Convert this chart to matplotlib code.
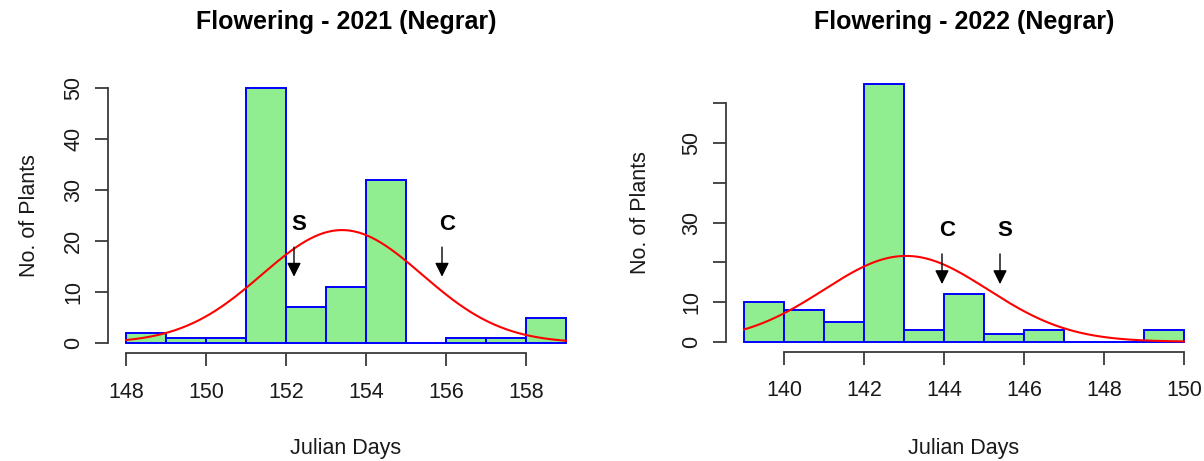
import numpy as np
import matplotlib
matplotlib.use("Agg")
import matplotlib.pyplot as plt

plt.rcParams["font.family"] = ["Liberation Sans", "DejaVu Sans"]

# 2021 panel
edges_2021 = np.arange(148, 160)
counts_2021 = [2, 1, 1, 50, 7, 11, 32, 0, 1, 1, 5]
mean_2021, sd_2021 = 153.4, 2.0
marks_2021 = [("S", 152.2), ("C", 155.9)]
xticks_2021 = [148, 150, 152, 154, 156, 158]
yticks_2021 = [0, 10, 20, 30, 40, 50]
ylabels_2021 = ["0", "10", "20", "30", "40", "50"]

# 2022 panel
edges_2022 = np.arange(139, 151)
counts_2022 = [10, 8, 5, 65, 3, 12, 2, 3, 0, 0, 3]
mean_2022, sd_2022 = 143.05, 2.05
marks_2022 = [("C", 143.95), ("S", 145.4)]
xticks_2022 = [140, 142, 144, 146, 148, 150]
yticks_2022 = [0, 10, 20, 30, 40, 50, 60]
ylabels_2022 = ["0", "10", "", "30", "", "50", ""]

W, H = 1204, 461
fig = plt.figure(figsize=(W / 100, H / 100), dpi=100)

axis_col = "#3a3a3a"


def panel(rect, edges, counts, mean, sd, marks, xticks, yticks, ylabels,
          arrow_top, arrow_tip, label_y, ylab_x, title):
    ax = fig.add_axes(rect)
    edges = np.asarray(edges)
    counts = np.asarray(counts)
    ax.bar(edges[:-1], counts, width=1, align="edge",
           facecolor="#90EE90", edgecolor="blue", linewidth=1.4, zorder=2)

    # fitted normal curve scaled to counts
    n = counts.sum()
    xs = np.linspace(edges[0], edges[-1], 300)
    ys = n * np.exp(-0.5 * ((xs - mean) / sd) ** 2) / (sd * np.sqrt(2 * np.pi))
    ax.plot(xs, ys, color="red", lw=1.5, zorder=3)

    for lab, xm in marks:
        ax.annotate("", xy=(xm, arrow_tip), xytext=(xm, arrow_top),
                    arrowprops=dict(arrowstyle="-|>", color="black", lw=1.0,
                                    mutation_scale=21, shrinkA=0, shrinkB=0),
                    zorder=4)
        ax.text(xm + 0.12, label_y, lab, fontsize=16, fontweight="bold",
                ha="center", va="center", zorder=4)

    rng = edges[-1] - edges[0]
    ax.set_xlim(edges[0] - 0.04 * rng, edges[-1] + 0.04 * rng)
    ymax = max(counts)
    ax.set_ylim(-0.04 * ymax, ymax * 1.04)

    for s in ["top", "right"]:
        ax.spines[s].set_visible(False)
    ax.spines["bottom"].set_bounds(xticks[0], xticks[-1])
    ax.spines["left"].set_bounds(yticks[0], yticks[-1])
    for s in ["bottom", "left"]:
        ax.spines[s].set_color(axis_col)
        ax.spines[s].set_linewidth(1.3)
    ax.set_xticks(xticks)
    ax.set_yticks(yticks)
    ax.set_yticklabels(ylabels, rotation=90, va="center")
    ax.tick_params(axis="both", length=9.5, width=1.3, color=axis_col,
                   labelsize=15.5, labelcolor="#1a1a1a")
    ax.tick_params(axis="x", pad=11)
    ax.tick_params(axis="y", pad=8)
    ax.set_xlabel("Julian Days", fontsize=15.5, color="#1a1a1a", va="center")
    ax.xaxis.set_label_coords(0.5, -0.345)
    ax.set_ylabel("No. of Plants", fontsize=15.5, color="#1a1a1a", va="center")
    ax.yaxis.set_label_coords(ylab_x, 0.5)
    ax.patch.set_visible(False)

    cx = rect[0] + rect[2] / 2
    fig.text(cx, 1 - 22 / H, title, fontsize=18, fontweight="bold",
             ha="center", va="center")
    return ax


panel([108.4 / W, 1 - 353.2 / H, 475.2 / W, 275.4 / H],
      edges_2021, counts_2021, mean_2021, sd_2021, marks_2021,
      xticks_2021, yticks_2021, ylabels_2021,
      18.8, 13.0, 23.3, -0.165, "Flowering - 2021 (Negrar)")

panel([726.4 / W, 1 - 352.0 / H, 475.2 / W, 278.7 / H],
      edges_2022, counts_2022, mean_2022, sd_2022, marks_2022,
      xticks_2022, yticks_2022, ylabels_2022,
      22.1, 14.5, 28.0, -0.18, "Flowering - 2022 (Negrar)")

fig.savefig("out.png", dpi=100)
